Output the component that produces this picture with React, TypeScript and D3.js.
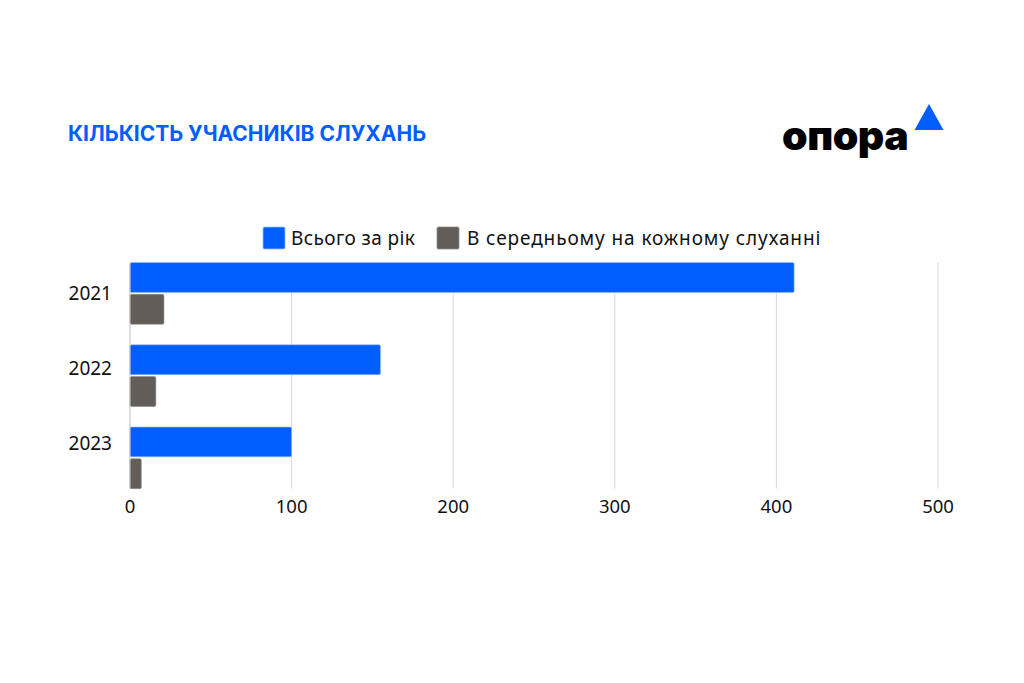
import React from "react";
import * as d3 from "d3";

const categories = ["2021", "2022", "2023"];
const seriesNames = ["Всього за рік", "В середньому на кожному слуханні"];
const totalPerYear = [411, 155, 100];
const averagePerHearing = [21, 16, 7];
const xTicks = [0, 100, 200, 300, 400, 500];
const title = "КІЛЬКІСТЬ УЧАСНИКІВ СЛУХАНЬ";

const W = 1024;
const H = 683;
const BLUE = "#005EFF";
const GRAY = "#625D58";
const FONT = "'Noto Sans', Lato, sans-serif";

export default function App() {
  const x = d3.scaleLinear().domain([0, 500]).range([130, 938]);
  const y = d3.scaleBand<string>().domain(categories).range([242, 509.2]).padding(0.25);
  const inner = d3.scaleBand<number>().domain([0, 1]).range([0, y.bandwidth()]).paddingInner(0.06);
  const labelY = d3.scalePoint<string>().domain(categories).range([293, 443]);
  const colors = [BLUE, GRAY];
  const strokes = ["#9DBDFB", "#8E8A86"];
  const values = [totalPerYear, averagePerHearing];

  const gridTop = y(categories[0])!;
  const gridBottom = y(categories[categories.length - 1])! + y.bandwidth();

  const legendItems = [
    { sq: 263, tx: 291, ls: 0.4 },
    { sq: 437, tx: 467, ls: 0.9 },
  ];

  return (
    <svg width={W} height={H} style={{ position: "absolute", left: 0, top: 0, background: "#fff" }}>
      <rect x={0} y={0} width={W} height={H} fill="#fff" />
      <text x={68} y={141} fill={BLUE} fontFamily="Inter, 'Noto Sans', sans-serif" fontWeight={700} fontSize={21}>
        {title}
      </text>

      {/* logo */}
      <text x={782} y={150} fill="#000" fontFamily="Inter, 'Noto Sans', sans-serif" fontWeight={900} fontSize={41} letterSpacing={-0.5}>
        опора
      </text>
      <polygon points="929,104 943.5,130 914.5,130" fill={BLUE} />

      {/* legend */}
      {seriesNames.map((name, i) => (
        <g key={name}>
          <rect x={legendItems[i].sq} y={227} width={22} height={22} rx={1.5} fill={colors[i]} stroke={strokes[i]} strokeWidth={0.8} />
          <text x={legendItems[i].tx} y={245} fontFamily={FONT} fontSize={19} letterSpacing={legendItems[i].ls} fill="#111">
            {name}
          </text>
        </g>
      ))}

      {/* gridlines */}
      {xTicks.slice(1).map((t) => (
        <line key={t} x1={x(t)} x2={x(t)} y1={gridTop} y2={gridBottom} stroke="#DADADA" strokeWidth={1} />
      ))}

      {/* bars */}
      {categories.map((c, ci) => (
        <g key={c}>
          {values.map((vals, si) => (
            <rect
              key={si}
              x={x(0)}
              y={y(c)! + inner(si)!}
              width={x(vals[ci]) - x(0)}
              height={inner.bandwidth()}
              rx={1.5}
              fill={colors[si]}
              stroke={strokes[si]}
              strokeWidth={0.6}
            />
          ))}
        </g>
      ))}

      {/* axis line */}
      <line x1={x(0)} x2={x(0)} y1={gridTop} y2={gridBottom} stroke="#BDBDBD" strokeWidth={1} />

      {/* y labels */}
      {categories.map((c) => (
        <text key={c} x={112} y={labelY(c)! + 7} textAnchor="end" fontFamily={FONT} fontSize={19} fill="#111">
          {c}
        </text>
      ))}

      {/* x tick labels */}
      {xTicks.map((t) => (
        <text key={t} x={x(t)} y={513} textAnchor="middle" fontFamily={FONT} fontSize={18.5} fill="#111">
          {t}
        </text>
      ))}
    </svg>
  );
}
